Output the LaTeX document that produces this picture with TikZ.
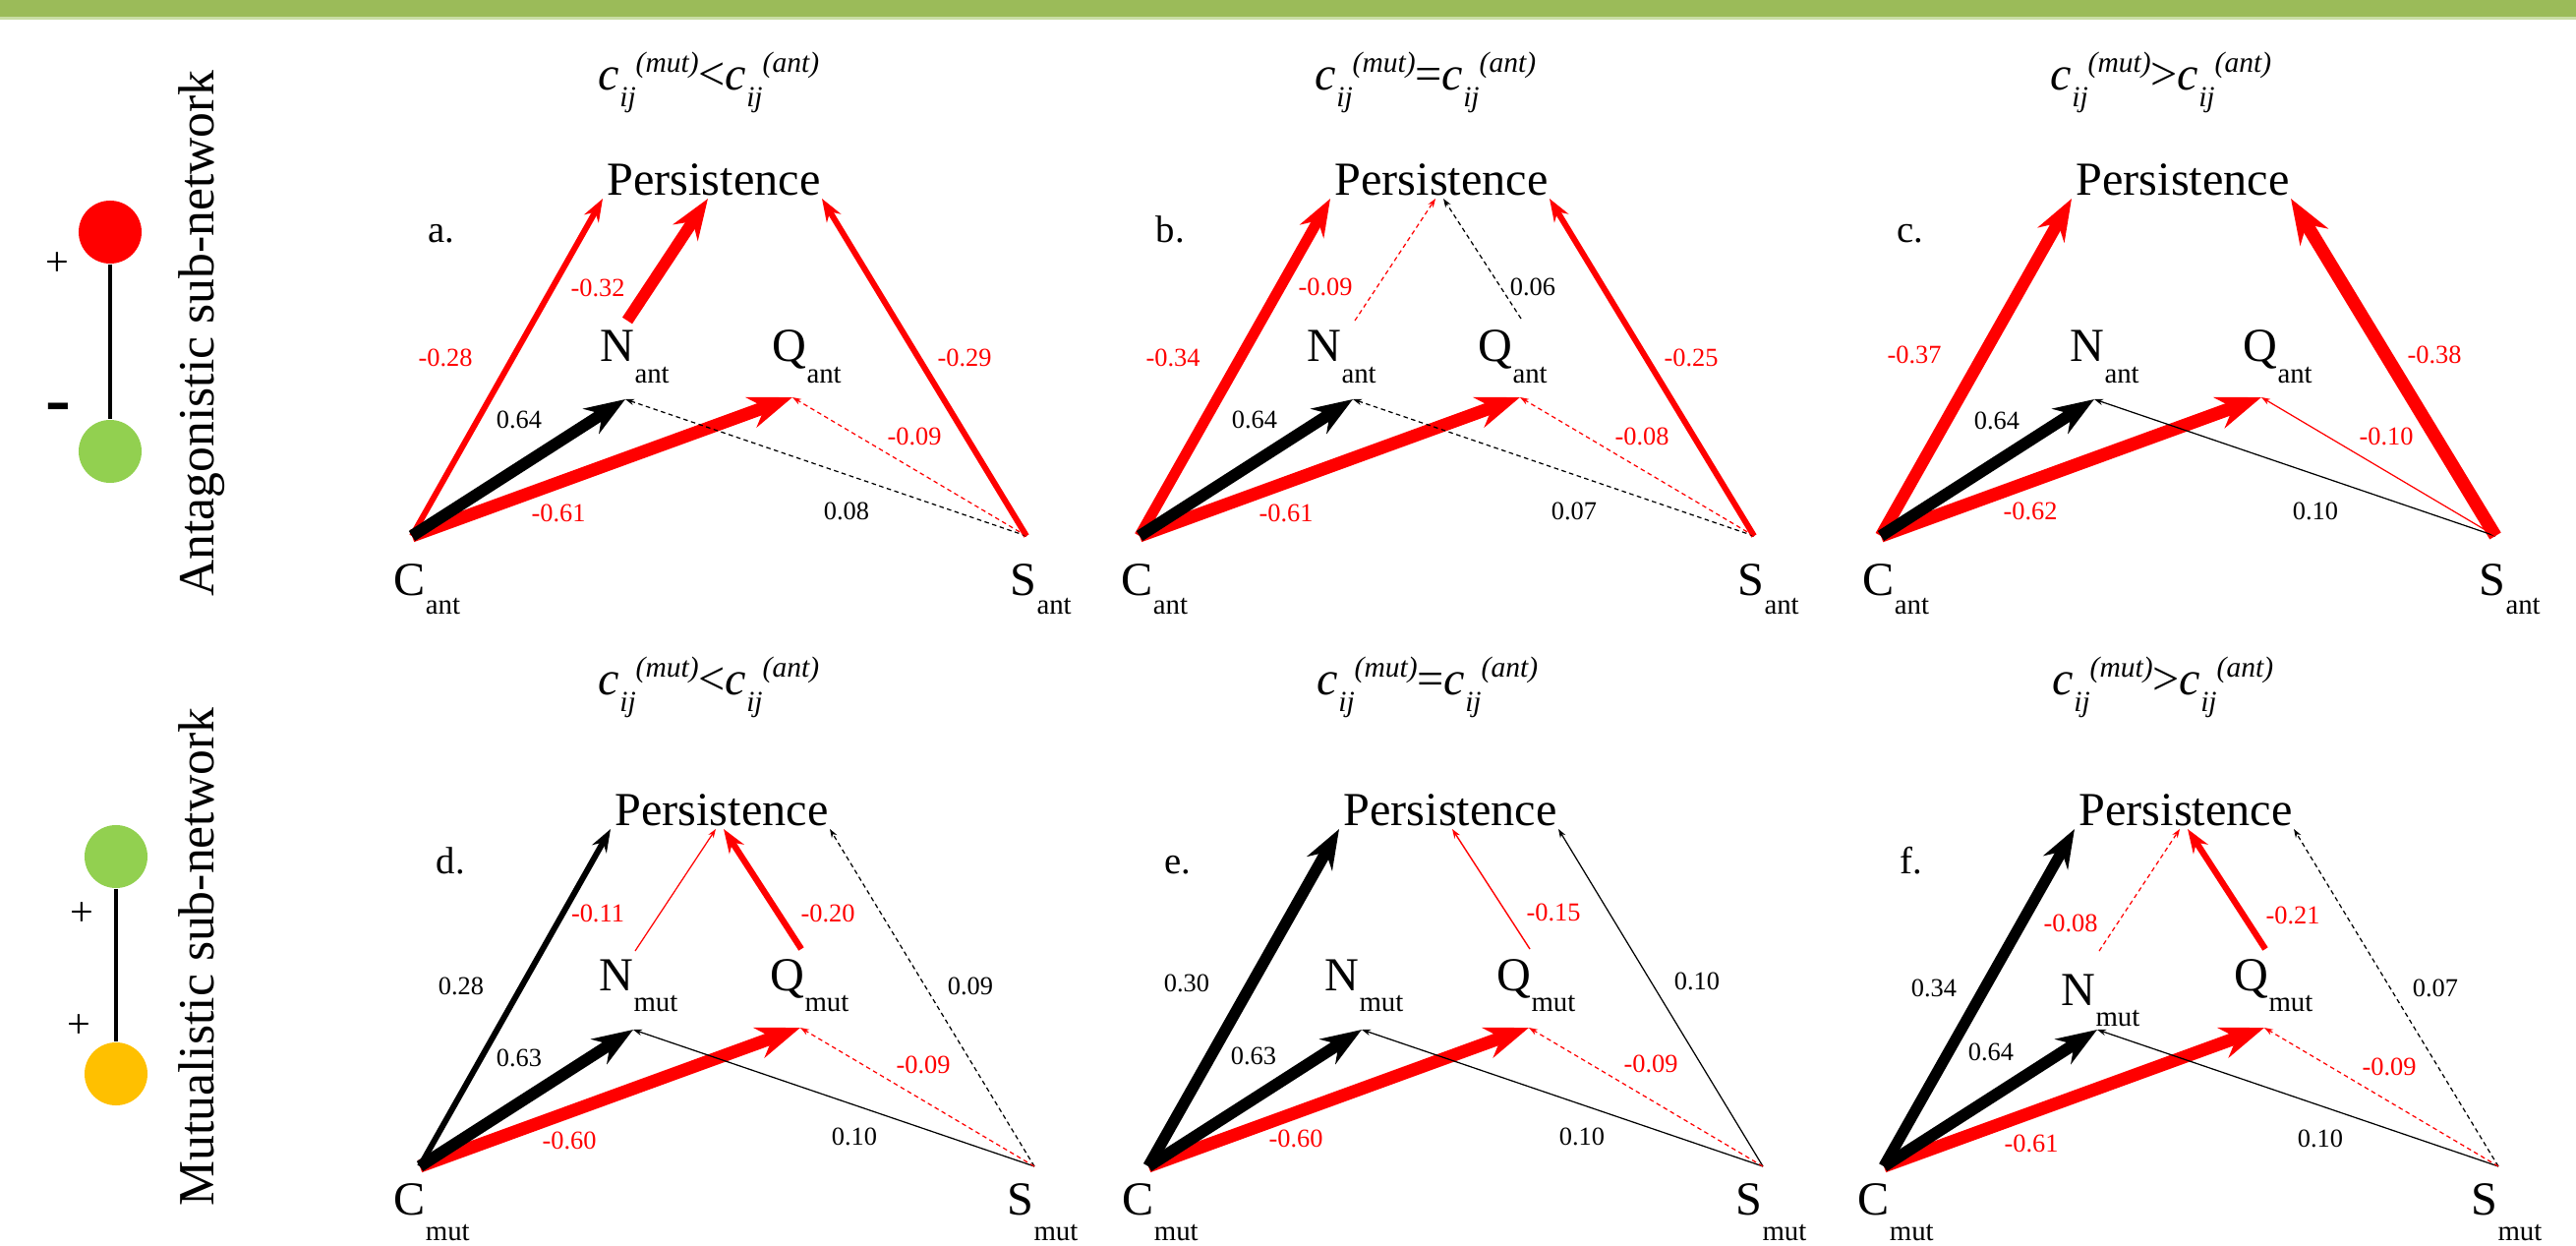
\documentclass[tikz,border=0pt]{standalone}
\usepackage{fontspec}
\setmainfont{Liberation Serif}
\usepackage{xcolor}
\usepackage{tikz}
\usetikzlibrary{arrows.meta}

\definecolor{bargreen}{HTML}{9BBB59}
\definecolor{bandgreen}{HTML}{C9DDA5}
\definecolor{leafgreen}{HTML}{92D050}
\definecolor{amber}{HTML}{FFC000}

\newcommand\low[2][6pt]{\raisebox{-#1}{\fontsize{8.2}{9}\selectfont #2}}
\newcommand\cij[1]{\textit{c}\raisebox{-4.6pt}{\fontsize{8.4}{9}\selectfont\textit{ij}}\raisebox{5.4pt}{\fontsize{8.4}{9}\selectfont\textit{(#1)}}}

% skeleton of one panel: tag, node labels and arrow end points
\newcommand\netpanel[7]{%
  \node[paneltag] (tag)  at (16,-298) {#1.};
  \node[big, anchor=base] (pers) at (307,-346) {Persistence};
  \node[big] (cn) at (#5) {C\low[#7]{#2}};
  \node[big] (sn) at (#6) {S\low[#7]{#2}};
  \node[big] (nn) at (#3) {N\low{#2}};
  \node[big] (qn) at (#4) {Q\low{#2}};
  \coordinate (c)  at (0,0);     \coordinate (s)  at (625,0);
  \coordinate (nh) at (217,-139); \coordinate (qh) at (387,-141);
  \coordinate (nt) at (219,-219); \coordinate (qt) at (388,-221);
  \coordinate (pl) at (194,-343); \coordinate (pn) at (301,-343);
  \coordinate (pq) at (309,-343); \coordinate (pr) at (417,-343);
}

\begin{document}
\begin{tikzpicture}[
    x=0.01cm, y=-0.01cm,
    big/.style={font=\fontsize{13.7}{15}\selectfont, inner sep=0pt, anchor=base west},
    paneltag/.style={font=\fontsize{11}{13}\selectfont, inner sep=0pt, anchor=base west},
    ttl/.style={font=\fontsize{13.7}{15}\selectfont, inner sep=0pt, anchor=base},
    wt/.style={font=\fontsize{7.5}{9}\selectfont, inner sep=0pt},
    sidelab/.style={font=\fontsize{14.7}{16}\selectfont, inner sep=0pt, rotate=90, anchor=base},
    sign/.style={font=\fontsize{12}{14}\selectfont, inner sep=0pt},
    disc/.style={circle, minimum size=0.64cm, inner sep=0pt},
    bond/.style={line width=1.1pt},
    link/.style={-{Stealth[length=1.5pt 3, width=1pt 2.2]}},
    faint/.style={link, line width=0.35pt},
    dfaint/.style={link, line width=0.35pt, dash pattern=on 1.3pt off 1pt}
]
\useasboundingbox (0,0) rectangle (2620,1267);
\fill[bargreen] (0,0) rectangle (2620,17);
\fill[bandgreen] (0,17) rectangle (2620,20);

% legend
\node[disc, fill=red]       (ant-top) at (112,236) {};
\node[disc, fill=leafgreen] (ant-bot) at (112,459) {};
\draw[bond] (ant-top) -- (ant-bot);
\node[sign] (ant-plus)  at (58,269) {+};
\node[sign, font=\fontsize{22}{24}\selectfont\bfseries] (ant-minus) at (59,421) {-};
\node[sidelab] (ant-lab) at (217,339) {Antagonistic sub-network};

\node[disc, fill=leafgreen] (mut-top) at (118,871) {};
\node[disc, fill=amber]     (mut-bot) at (118,1092) {};
\draw[bond] (mut-top) -- (mut-bot);
\node[sign] (mut-plus1) at (83,930) {+};
\node[sign] (mut-plus2) at (80,1044) {+};
\node[sidelab] (mut-lab) at (217,973) {Mutualistic sub-network};

% column titles
\node[ttl] (t-a) at (721,92)  {\cij{mut}<\cij{ant}};
\node[ttl] (t-b) at (1450,92) {\cij{mut}=\cij{ant}};
\node[ttl] (t-c) at (2198,92) {\cij{mut}>\cij{ant}};
\node[ttl] (t-d) at (721,707)  {\cij{mut}<\cij{ant}};
\node[ttl] (t-e) at (1452,707) {\cij{mut}=\cij{ant}};
\node[ttl] (t-f) at (2200,707) {\cij{mut}>\cij{ant}};

% a
\begin{scope}[shift={(419,545)}, name prefix=a-]
  \netpanel{a}{ant}{191,-177}{366,-177}{-19,61}{608,61}{5.4pt}
  \draw[link, red, line width=3.7pt] (c) -- (qh);
  \draw[link, red, line width=1.7pt] (c) -- (pl);
  \draw[link, red, line width=3.4pt] (nt) -- (pn);
  \draw[link, red, line width=1.7pt] (s) -- (pr);
  \draw[link, line width=3.4pt] (c) -- (nh);
  \draw[dfaint] (s) -- (nh);
  \draw[dfaint, red] (s) -- (qh);
  \node[wt, red] (w-cp) at (34,-181)  {-0.28};
  \node[wt, red] (w-np) at (189,-252) {-0.32};
  \node[wt, red] (w-sp) at (562,-181) {-0.29};
  \node[wt]      (w-cn) at (109,-118) {0.64};
  \node[wt, red] (w-cq) at (149,-23)  {-0.61};
  \node[wt]      (w-sn) at (442,-25)  {0.08};
  \node[wt, red] (w-sq) at (511,-101) {-0.09};
\end{scope}

% b
\begin{scope}[shift={(1159,545)}, name prefix=b-]
  \netpanel{b}{ant}{170,-177}{344,-177}{-19,61}{608,61}{5.4pt}
  \draw[link, red, line width=3.7pt] (c) -- (qh);
  \draw[link, red, line width=3.1pt] (c) -- (pl);
  \draw[link, red, line width=1.7pt] (s) -- (pr);
  \draw[link, line width=3.4pt] (c) -- (nh);
  \draw[dfaint, red] (nt) -- (pn);
  \draw[dfaint] (qt) -- (pq);
  \draw[dfaint] (s) -- (nh);
  \draw[dfaint, red] (s) -- (qh);
  \node[wt, red] (w-cp) at (34,-181)  {-0.34};
  \node[wt, red] (w-np) at (189,-253) {-0.09};
  \node[wt]      (w-qp) at (400,-253) {0.06};
  \node[wt, red] (w-sp) at (561,-181) {-0.25};
  \node[wt]      (w-cn) at (117,-118) {0.64};
  \node[wt, red] (w-cq) at (149,-23)  {-0.61};
  \node[wt]      (w-sn) at (442,-25)  {0.07};
  \node[wt, red] (w-sq) at (511,-101) {-0.08};
\end{scope}

% c
\begin{scope}[shift={(1913,545)}, name prefix=c-]
  \netpanel{c}{ant}{192,-177}{368,-177}{-19,61}{608,61}{5.4pt}
  \draw[link, red, line width=3.8pt] (c) -- (qh);
  \draw[link, red, line width=3.5pt] (c) -- (pl);
  \draw[link, red, line width=3.8pt] (s) -- (pr);
  \draw[link, line width=3.4pt] (c) -- (nh);
  \draw[faint] (s) -- (nh);
  \draw[faint, red] (s) -- (qh);
  \node[wt, red] (w-cp) at (34,-184)  {-0.37};
  \node[wt, red] (w-sp) at (563,-184) {-0.38};
  \node[wt]      (w-cn) at (118,-117) {0.64};
  \node[wt, red] (w-cq) at (152,-25)  {-0.62};
  \node[wt]      (w-sn) at (442,-25)  {0.10};
  \node[wt, red] (w-sq) at (514,-101) {-0.10};
\end{scope}

% d
\begin{scope}[shift={(427,1186)}, name prefix=d-]
  \netpanel{d}{mut}{182,-179}{356,-179}{-27,49}{597,49}{7.6pt}
  \draw[link, red, line width=3.7pt] (c) -- (qh);
  \draw[link, line width=1.7pt] (c) -- (pl);
  \draw[link, red, line width=1.8pt] (qt) -- (pq);
  \draw[link, line width=3.4pt] (c) -- (nh);
  \draw[faint, red] (nt) -- (pn);
  \draw[dfaint] (s) -- (pr);
  \draw[faint] (s) -- (nh);
  \draw[dfaint, red] (s) -- (qh);
  \node[wt]      (w-cp) at (42,-183)  {0.28};
  \node[wt, red] (w-np) at (181,-257) {-0.11};
  \node[wt, red] (w-qp) at (415,-257) {-0.20};
  \node[wt]      (w-sp) at (560,-183) {0.09};
  \node[wt]      (w-cn) at (101,-110) {0.63};
  \node[wt, red] (w-cq) at (152,-26)  {-0.60};
  \node[wt]      (w-sn) at (442,-30)  {0.10};
  \node[wt, red] (w-sq) at (512,-103) {-0.09};
\end{scope}

% e
\begin{scope}[shift={(1168,1186)}, name prefix=e-]
  \netpanel{e}{mut}{179,-179}{354,-179}{-27,49}{597,49}{7.6pt}
  \draw[link, red, line width=3.7pt] (c) -- (qh);
  \draw[link, line width=3.3pt] (c) -- (pl);
  \draw[link, line width=3.4pt] (c) -- (nh);
  \draw[link, red, line width=0.4pt] (qt) -- (pq);
  \draw[faint] (s) -- (pr);
  \draw[faint] (s) -- (nh);
  \draw[dfaint, red] (s) -- (qh);
  \node[wt]      (w-cp) at (39,-186)  {0.30};
  \node[wt, red] (w-qp) at (412,-258) {-0.15};
  \node[wt]      (w-sp) at (558,-188) {0.10};
  \node[wt]      (w-cn) at (107,-112) {0.63};
  \node[wt, red] (w-cq) at (150,-28)  {-0.60};
  \node[wt]      (w-sn) at (441,-30)  {0.10};
  \node[wt, red] (w-sq) at (511,-104) {-0.09};
\end{scope}

% f
\begin{scope}[shift={(1916,1186)}, name prefix=f-]
  \netpanel{f}{mut}{180,-164}{356,-179}{-27,49}{597,49}{7.6pt}
  \draw[link, red, line width=3.7pt] (c) -- (qh);
  \draw[link, line width=3.2pt] (c) -- (pl);
  \draw[link, red, line width=1.8pt] (qt) -- (pq);
  \draw[link, line width=3.4pt] (c) -- (nh);
  \draw[dfaint, red] (nt) -- (pn);
  \draw[dfaint] (s) -- (pr);
  \draw[faint] (s) -- (nh);
  \draw[dfaint, red] (s) -- (qh);
  \node[wt]      (w-cp) at (51,-181)  {0.34};
  \node[wt, red] (w-np) at (190,-247) {-0.08};
  \node[wt, red] (w-qp) at (416,-255) {-0.21};
  \node[wt]      (w-sp) at (561,-181) {0.07};
  \node[wt]      (w-cn) at (109,-116) {0.64};
  \node[wt, red] (w-cq) at (150,-23)  {-0.61};
  \node[wt]      (w-sn) at (444,-28)  {0.10};
  \node[wt, red] (w-sq) at (514,-101) {-0.09};
\end{scope}
\end{tikzpicture}
\end{document}
